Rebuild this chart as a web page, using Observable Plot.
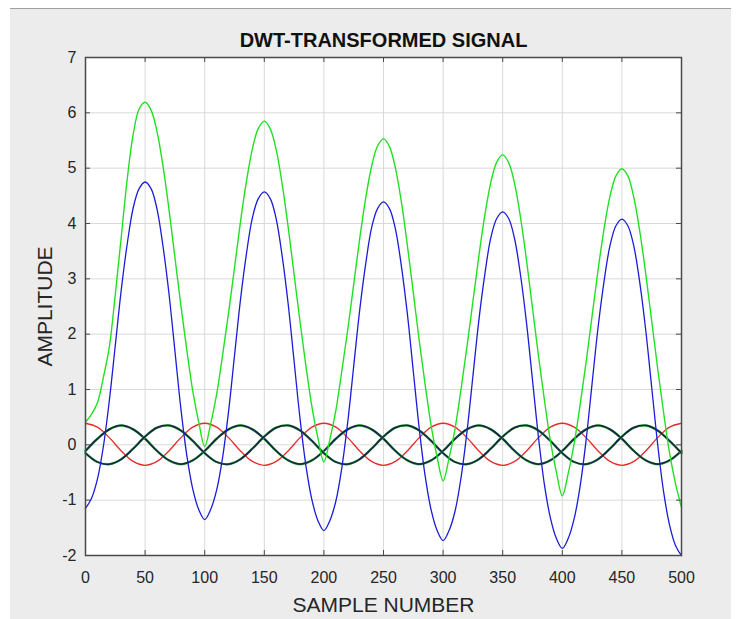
<!DOCTYPE html>
<html><head><meta charset="utf-8">
<script src="https://cdn.jsdelivr.net/npm/d3@7"></script>
<script src="https://cdn.jsdelivr.net/npm/@observablehq/plot@0.6"></script>
<style>
html,body{margin:0;padding:0;background:#ffffff;width:738px;height:619px;overflow:hidden;}
#panel{position:absolute;left:10px;top:8px;width:721px;height:611px;background:#ececec;border-top:1px solid #a0a0a0;}
#chart{position:absolute;left:0;top:0;}
</style></head><body>
<div id="panel"></div><div id="chart"></div>
<script>
const titleText = "DWT-TRANSFORMED SIGNAL";
const xLabel = "SAMPLE NUMBER";
const yLabel = "AMPLITUDE";
const xTicks = [0, 50, 100, 150, 200, 250, 300, 350, 400, 450, 500];
const yTicks = [-2, -1, 0, 1, 2, 3, 4, 5, 6, 7];

// big curves, one value every 5 samples (0..500)
const greenBig = [
  0.41, 0.55, 0.76, 1.22, 1.77, 2.72, 3.76, 4.80, 5.61, 6.07,
  6.19, 6.05, 5.66, 5.04, 4.26, 3.39, 2.52, 1.71, 0.97, 0.41,
  -0.03, 0.38, 0.91, 1.62, 2.38, 3.20, 4.03, 4.76, 5.35, 5.72,
  5.85, 5.71, 5.33, 4.71, 3.94, 3.08, 2.22, 1.41, 0.68, 0.12,
  -0.31, 0.10, 0.62, 1.33, 2.08, 2.90, 3.72, 4.45, 5.03, 5.40,
  5.53, 5.39, 5.00, 4.39, 3.61, 2.75, 1.88, 1.08, 0.34, -0.22,
  -0.65, -0.24, 0.29, 1.00, 1.77, 2.59, 3.41, 4.15, 4.74, 5.11,
  5.24, 5.10, 4.72, 4.10, 3.33, 2.47, 1.61, 0.81, 0.07, -0.49,
  -0.92, -0.51, 0.03, 0.73, 1.50, 2.33, 3.16, 3.90, 4.49, 4.86,
  4.99, 4.86, 4.47, 3.86, 3.09, 2.24, 1.38, 0.58, -0.15, -0.70,
  -1.13
];
const blueBig = [
  -1.15, -0.97, -0.62, -0.03, 0.80, 1.80, 2.80, 3.63, 4.28, 4.63,
  4.75, 4.63, 4.26, 3.59, 2.74, 1.70, 0.66, -0.19, -0.80, -1.17,
  -1.35, -1.17, -0.82, -0.23, 0.60, 1.61, 2.62, 3.45, 4.10, 4.45,
  4.57, 4.45, 4.08, 3.41, 2.55, 1.51, 0.47, -0.39, -1.00, -1.37,
  -1.55, -1.37, -1.02, -0.42, 0.41, 1.42, 2.43, 3.26, 3.92, 4.27,
  4.39, 4.27, 3.90, 3.23, 2.37, 1.33, 0.29, -0.57, -1.18, -1.55,
  -1.73, -1.55, -1.20, -0.60, 0.23, 1.24, 2.25, 3.08, 3.74, 4.09,
  4.21, 4.09, 3.72, 3.06, 2.20, 1.17, 0.14, -0.72, -1.32, -1.69,
  -1.87, -1.69, -1.33, -0.74, 0.09, 1.11, 2.12, 2.95, 3.60, 3.96,
  4.08, 3.96, 3.59, 2.93, 2.07, 1.04, 0.01, -0.85, -1.45, -1.82,
  -2.00
];

// small curves, one value every 10 samples (0..500)
const redSmall = [
  0.39, 0.32, 0.13, -0.11, -0.30, -0.37, -0.30, -0.11, 0.13, 0.32,
  0.39, 0.32, 0.13, -0.11, -0.30, -0.37, -0.30, -0.11, 0.13, 0.32,
  0.39, 0.32, 0.13, -0.11, -0.30, -0.37, -0.30, -0.11, 0.13, 0.32,
  0.39, 0.32, 0.13, -0.11, -0.30, -0.37, -0.30, -0.11, 0.13, 0.32,
  0.39, 0.32, 0.13, -0.11, -0.30, -0.37, -0.30, -0.11, 0.13, 0.32,
  0.39
];
const detailA = [
  -0.11, 0.11, 0.28, 0.35, 0.28, 0.11, -0.11, -0.28, -0.35, -0.28,
  -0.11, 0.11, 0.28, 0.35, 0.28, 0.11, -0.11, -0.28, -0.35, -0.28,
  -0.11, 0.11, 0.28, 0.35, 0.28, 0.11, -0.11, -0.28, -0.35, -0.28,
  -0.11, 0.11, 0.28, 0.35, 0.28, 0.11, -0.11, -0.28, -0.35, -0.28,
  -0.11, 0.11, 0.28, 0.35, 0.28, 0.11, -0.11, -0.28, -0.35, -0.28,
  -0.11
];
const detailB = [
  -0.15, -0.31, -0.35, -0.26, -0.07, 0.15, 0.31, 0.35, 0.26, 0.07,
  -0.15, -0.31, -0.35, -0.26, -0.07, 0.15, 0.31, 0.35, 0.26, 0.07,
  -0.15, -0.31, -0.35, -0.26, -0.07, 0.15, 0.31, 0.35, 0.26, 0.07,
  -0.15, -0.31, -0.35, -0.26, -0.07, 0.15, 0.31, 0.35, 0.26, 0.07,
  -0.15, -0.31, -0.35, -0.26, -0.07, 0.15, 0.31, 0.35, 0.26, 0.07,
  -0.15
];

const bigRows = greenBig.map((g, i) => ({x: i * 5, green: g, blue: blueBig[i]}));
const smallRows = redSmall.map((r, i) => ({x: i * 10, red: r, a: detailA[i], b: detailB[i]}));

const axisColor = "#4a4a4a";
const textColor = "#262626";
const mL = 85, mR = 57, mT = 57, mB = 64, W = 738, H = 619;
const frameW = W - mL - mR, frameH = H - mT - mB, tickLen = 5;
const fmt = d => String(d);

const chart = Plot.plot({
  width: W, height: H,
  marginLeft: mL, marginRight: mR, marginTop: mT, marginBottom: mB,
  style: {background: "transparent", fontFamily: "'Liberation Sans', Arial, Helvetica, sans-serif", color: textColor},
  x: {domain: [0, 500]},
  y: {domain: [-2, 7]},
  marks: [
    Plot.frame({fill: "#ffffff"}),
    Plot.gridX(xTicks, {stroke: "#d9d9d9", strokeOpacity: 1}),
    Plot.gridY(yTicks, {stroke: "#d9d9d9", strokeOpacity: 1}),
    Plot.line(smallRows, {x: "x", y: "red", stroke: "#e52a2a", strokeWidth: 1.3, curve: "catmull-rom"}),
    Plot.line(smallRows, {x: "x", y: "a", stroke: "#4cd84c", strokeWidth: 2.4, curve: "catmull-rom"}),
    Plot.line(smallRows, {x: "x", y: "a", stroke: "#1a2648", strokeWidth: 1.8, curve: "catmull-rom"}),
    Plot.line(smallRows, {x: "x", y: "b", stroke: "#4cd84c", strokeWidth: 2.4, curve: "catmull-rom"}),
    Plot.line(smallRows, {x: "x", y: "b", stroke: "#1a2648", strokeWidth: 1.8, curve: "catmull-rom"}),
    Plot.line(bigRows, {x: "x", y: "green", stroke: "#22e022", strokeWidth: 1.4, curve: "catmull-rom"}),
    Plot.line(bigRows, {x: "x", y: "blue", stroke: "#1c1cd8", strokeWidth: 1.3, curve: "catmull-rom"}),
    Plot.frame({stroke: axisColor, strokeWidth: 1.5}),
    Plot.tickX(xTicks, {x: d => d, insetTop: frameH - tickLen, stroke: axisColor}),
    Plot.tickX(xTicks, {x: d => d, insetBottom: frameH - tickLen, stroke: axisColor}),
    Plot.tickY(yTicks, {y: d => d, insetRight: frameW - tickLen, stroke: axisColor}),
    Plot.tickY(yTicks, {y: d => d, insetLeft: frameW - tickLen, stroke: axisColor}),
    Plot.axisX(xTicks, {tickSize: 0, tickPadding: 16, label: null, fontSize: 16, fill: textColor, tickFormat: fmt}),
    Plot.axisY(yTicks, {tickSize: 0, tickPadding: 9, label: null, fontSize: 16, fill: textColor, tickFormat: fmt}),
    Plot.text([titleText], {frameAnchor: "top", lineAnchor: "middle", textAnchor: "middle", dy: -17, fontWeight: "bold", fontSize: 20, fill: "#111"}),
    Plot.text([xLabel], {frameAnchor: "bottom", lineAnchor: "middle", textAnchor: "middle", dy: 50, fontSize: 21, fill: textColor}),
    Plot.text([yLabel], {frameAnchor: "left", lineAnchor: "middle", textAnchor: "middle", dx: -40, rotate: -90, fontSize: 21, fill: textColor})
  ]
});
document.getElementById("chart").appendChild(chart);
</script>
</body></html>
